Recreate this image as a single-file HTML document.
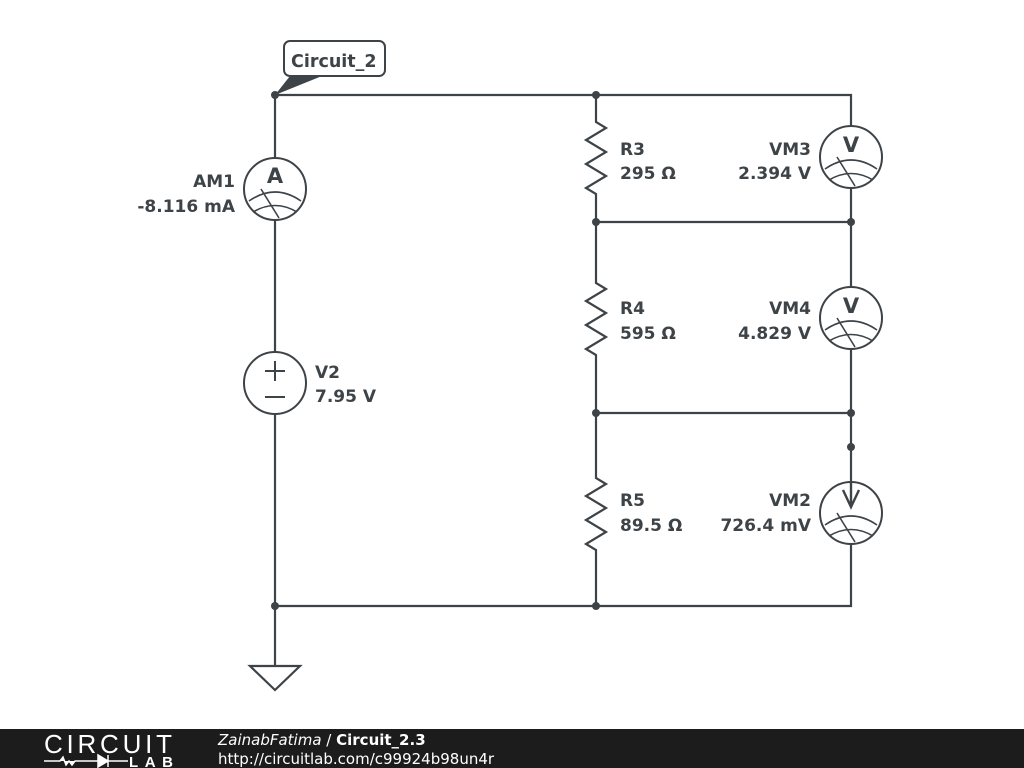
<!DOCTYPE html>
<html><head><style>
html,body{margin:0;padding:0;background:#fff;width:1024px;height:768px;overflow:hidden}
svg{display:block}
text{font-family:"DejaVu Sans",sans-serif;font-weight:bold;fill:#3d4347}
</style></head><body>
<svg width="1024" height="768" viewBox="0 0 1024 768">
<defs>
<g id="meter">
<circle cx="0" cy="0" r="31" fill="#fff" stroke="#3d4347" stroke-width="2"/>
<path d="M-26,12 Q0,-6 26,12 M-22,23 Q0,10 22,23 M-14,0 L4,29" fill="none" stroke="#3d4347" stroke-width="1.6"/>
</g>
</defs>
<g stroke="#3d4347" stroke-width="2.2" fill="none">
<path d="M275,95 H851 V126 M851,188 V287 M851,349 V482 M851,544 V606 H275 V95"/>
<path d="M275,606 V666"/>
<path d="M596,95 V122 l10,6 l-20,12 l20,12 l-20,12 l20,12 l-20,12 l10,6 V283 l10,6 l-20,12 l20,12 l-20,12 l20,12 l-20,12 l10,6 V478 l10,6 l-20,12 l20,12 l-20,12 l20,12 l-20,12 l10,6 V606"/>
<path d="M596,222 H851 M596,413 H851"/>
<path d="M250,666 H300 L275,690 Z" fill="#fff"/>
</g>
<g fill="#3d4347">
<circle cx="275" cy="95" r="4"/><circle cx="596" cy="95" r="4"/><circle cx="596" cy="222" r="4"/><circle cx="851" cy="222" r="4"/>
<circle cx="596" cy="413" r="4"/><circle cx="851" cy="413" r="4"/><circle cx="851" cy="447" r="4"/>
<circle cx="275" cy="606" r="4"/><circle cx="596" cy="606" r="4"/>
<path d="M275,95 L290,76 L322,76 Z"/>
</g>
<rect x="284" y="41" width="101" height="35" rx="6" fill="#fff" stroke="#3d4347" stroke-width="2"/>
<text x="291" y="67" font-size="17.5">Circuit_2</text>
<use href="#meter" x="275" y="189"/>
<text x="275" y="183" font-size="21" text-anchor="middle">A</text>
<use href="#meter" x="851" y="157"/>
<text x="851" y="152" font-size="21" text-anchor="middle">V</text>
<use href="#meter" x="851" y="318"/>
<text x="851" y="313" font-size="21" text-anchor="middle">V</text>
<use href="#meter" x="851" y="513"/>
<path d="M851,482 V507 M843,490 L851,507 L859,490" fill="none" stroke="#3d4347" stroke-width="2.4"/>
<circle cx="275" cy="383" r="31" fill="#fff" stroke="#3d4347" stroke-width="2"/>
<path d="M265,371 H285 M275,361 V381 M265,397 H285" stroke="#3d4347" stroke-width="2"/>
<g font-size="17">
<text x="235" y="187" text-anchor="end">AM1</text>
<text x="235" y="212" text-anchor="end">-8.116 mA</text>
<text x="315" y="378">V2</text>
<text x="315" y="402">7.95 V</text>
<text x="620" y="155">R3</text>
<text x="620" y="179">295 Ω</text>
<text x="620" y="314">R4</text>
<text x="620" y="339">595 Ω</text>
<text x="620" y="506">R5</text>
<text x="620" y="531">89.5 Ω</text>
<text x="811" y="155" text-anchor="end">VM3</text>
<text x="811" y="179" text-anchor="end">2.394 V</text>
<text x="811" y="314" text-anchor="end">VM4</text>
<text x="811" y="339" text-anchor="end">4.829 V</text>
<text x="811" y="506" text-anchor="end">VM2</text>
<text x="811" y="531" text-anchor="end">726.4 mV</text>
</g>
<rect x="0" y="729" width="1024" height="39" fill="#1c1c1c"/>
<text x="44" y="753" font-size="26" textLength="128" style="fill:#fff;font-weight:normal;font-family:'Liberation Sans',sans-serif">CIRCUIT</text>
<path d="M44,761 H60 l3,-4 l3,8 l3,-4 l3,4 l3,-4 H98 M98,755 V767 L108,761 Z M108,755 V767 M108,761 H128" stroke="#fff" stroke-width="1.5" fill="#fff"/>
<text x="129" y="767" font-size="15" textLength="44" style="fill:#fff;font-family:'Liberation Sans',sans-serif">LAB</text>
<text x="218" y="745" font-size="15" style="fill:#fff;font-weight:normal;font-style:italic">ZainabFatima <tspan font-style="normal">/ </tspan><tspan font-style="normal" font-weight="bold">Circuit_2.3</tspan></text>
<text x="218" y="764" font-size="15" style="fill:#fff;font-weight:normal">http://circuitlab.com/c99924b98un4r</text>
</svg>
</body></html>
